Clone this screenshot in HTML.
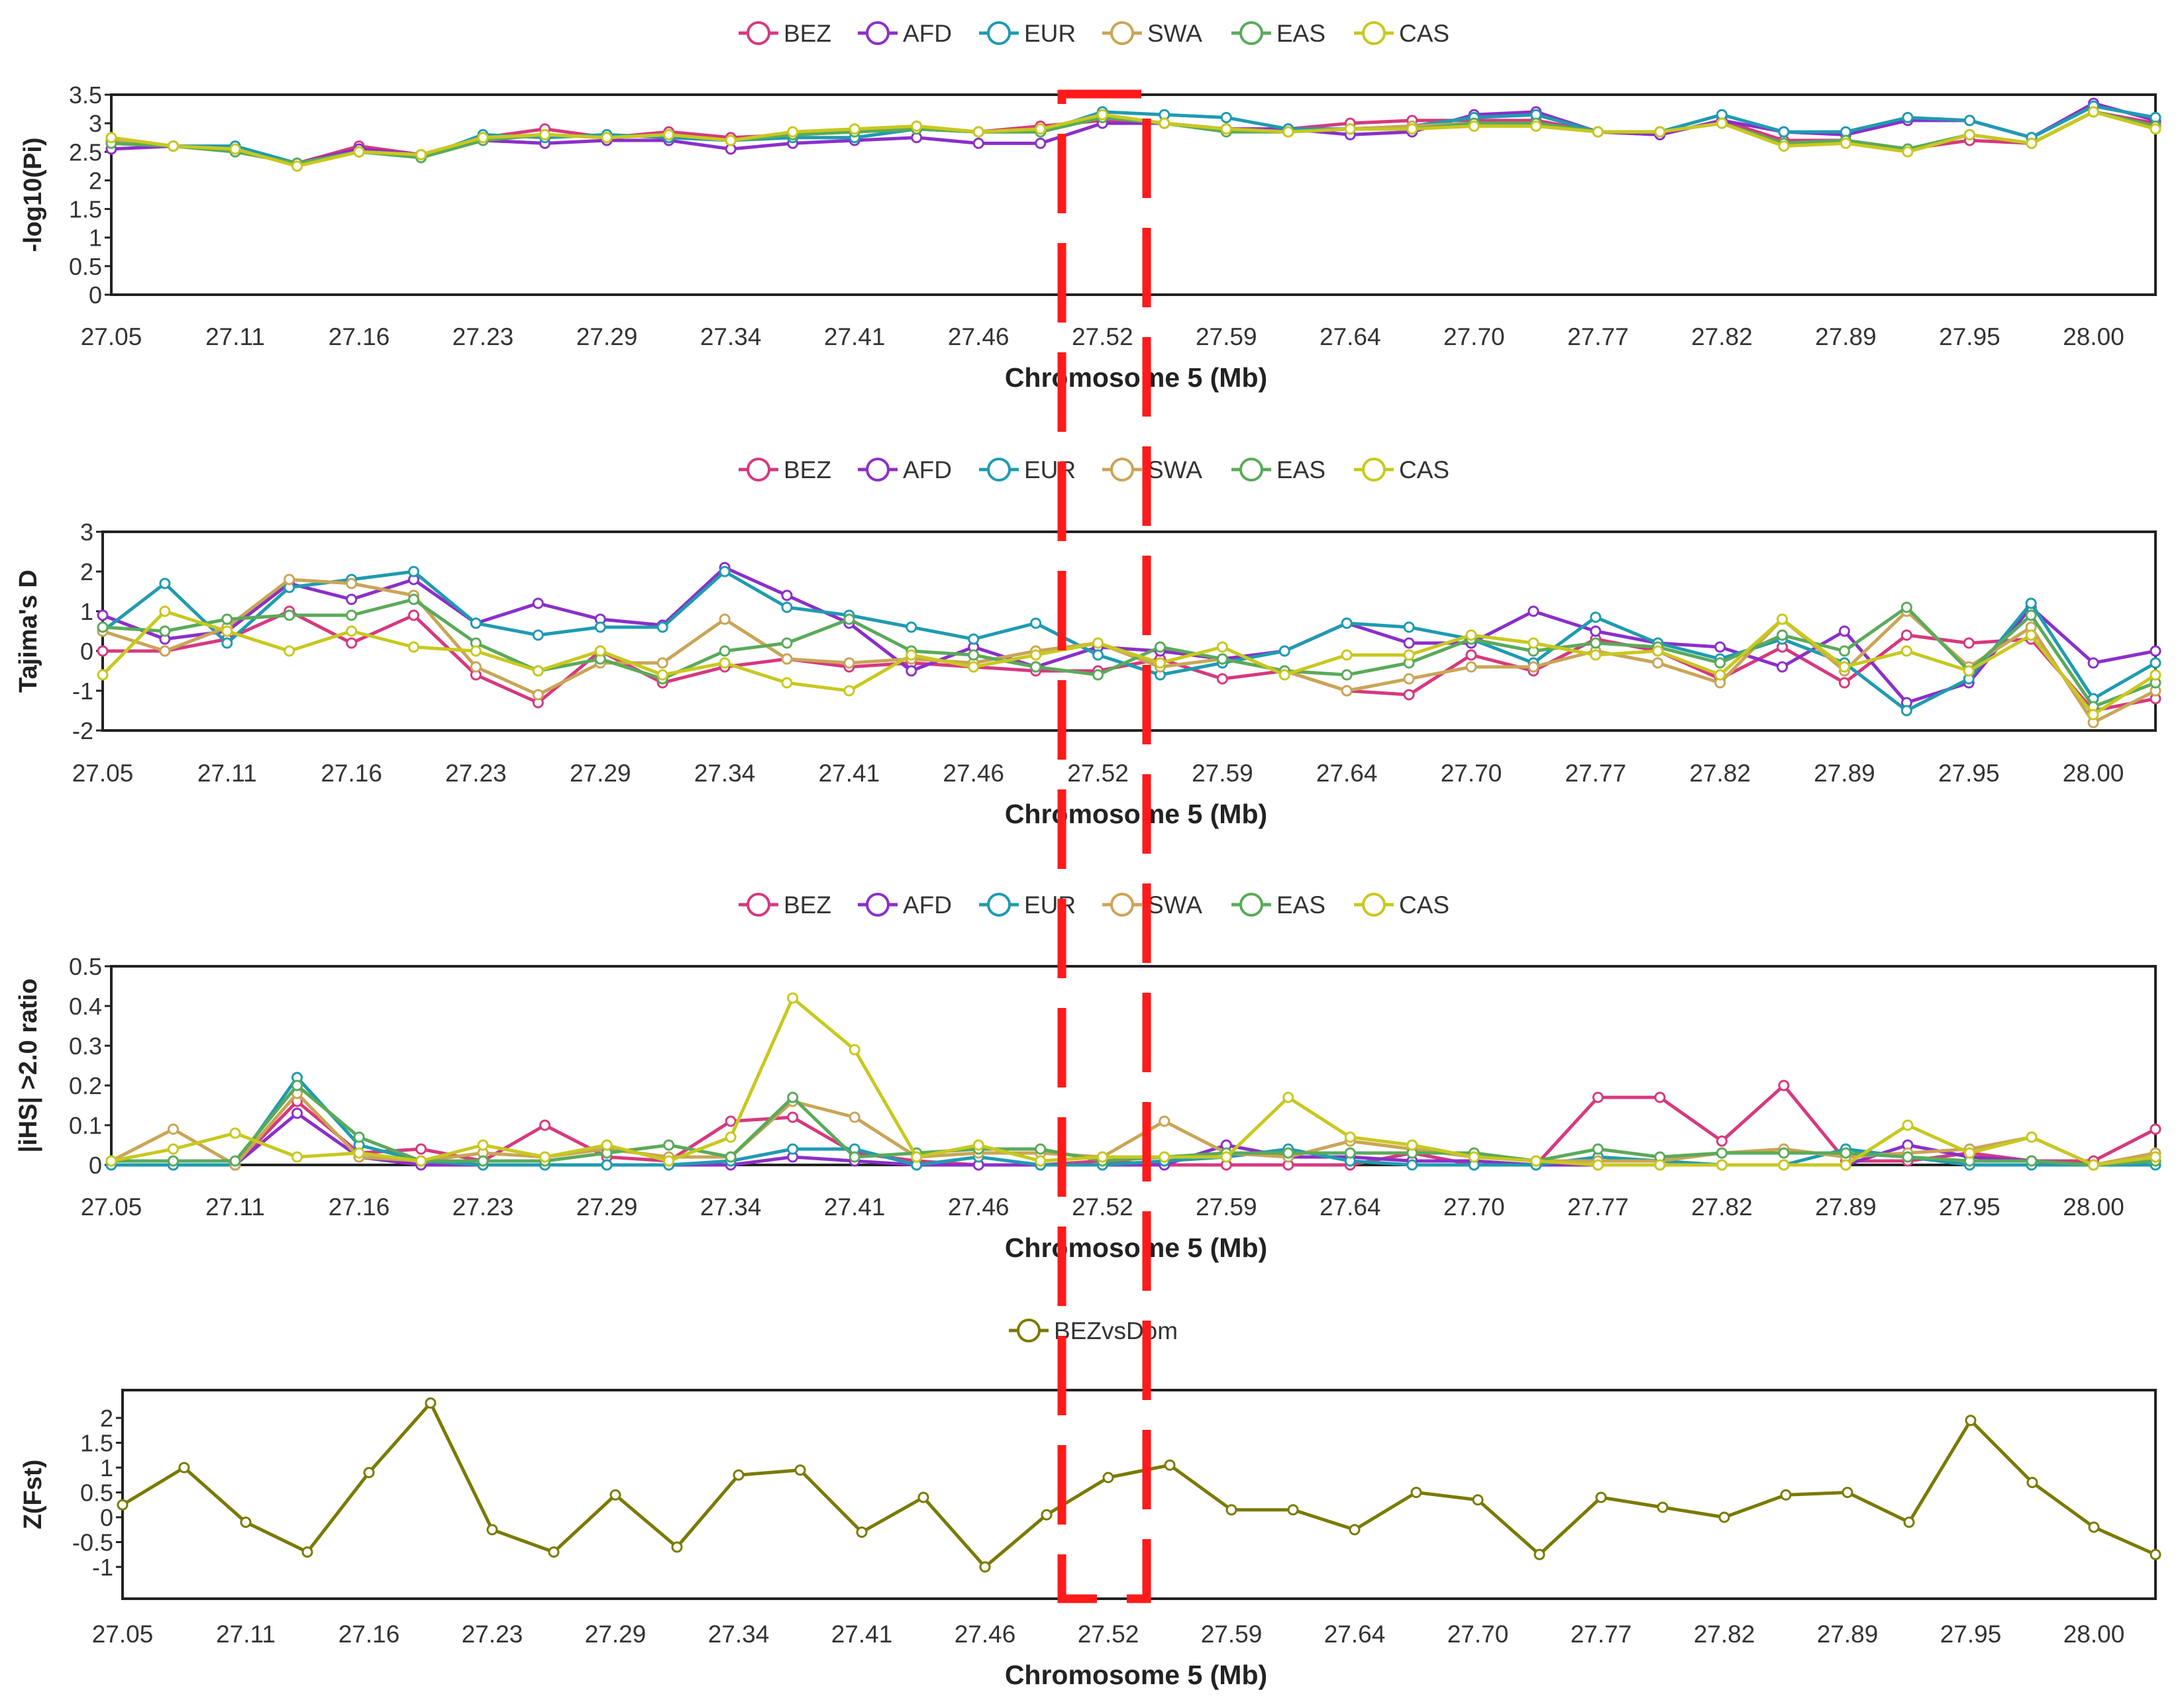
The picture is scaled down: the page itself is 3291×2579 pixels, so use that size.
<!DOCTYPE html>
<html><head><meta charset="utf-8"><style>
html,body{margin:0;padding:0;background:#fff;}
svg{display:block;font-family:"Liberation Sans",sans-serif;}
</style></head><body>
<svg id="c" width="3291" height="2579" viewBox="0 0 3291 2579"></svg>
<script>
const xTickLabels=["27.05","27.11","27.16","27.23","27.29","27.34","27.41","27.46","27.52","27.59","27.64","27.70","27.77","27.82","27.89","27.95","28.00"];
const seriesNames=["BEZ","AFD","EUR","SWA","EAS","CAS"];
const seriesColors=["#d6397f","#8b2fc9","#1f9bb0","#c9a556","#5aaa5a","#c8c81e"];
const piBEZ=[2.65,2.6,2.55,2.3,2.6,2.45,2.75,2.9,2.75,2.85,2.75,2.8,2.85,2.9,2.85,2.95,3.05,3.0,2.9,2.9,3.0,3.05,3.05,3.05,2.85,2.8,3.05,2.7,2.7,2.55,2.7,2.65,3.2,3.0];
const piAFD=[2.55,2.6,2.55,2.3,2.55,2.45,2.7,2.65,2.7,2.7,2.55,2.65,2.7,2.75,2.65,2.65,3.0,3.0,2.9,2.9,2.8,2.85,3.15,3.2,2.85,2.8,3.05,2.85,2.8,3.05,3.05,2.75,3.35,3.05];
const piEUR=[2.7,2.6,2.6,2.3,2.5,2.4,2.8,2.75,2.8,2.75,2.7,2.75,2.75,2.9,2.85,2.85,3.2,3.15,3.1,2.9,2.9,2.95,3.1,3.15,2.85,2.85,3.15,2.85,2.85,3.1,3.05,2.75,3.3,3.1];
const piSWA=[2.7,2.6,2.5,2.3,2.5,2.45,2.75,2.8,2.75,2.8,2.7,2.8,2.85,2.9,2.85,2.9,3.1,3.0,2.9,2.85,2.9,2.95,3.0,3.0,2.85,2.85,3.0,2.65,2.7,2.55,2.8,2.65,3.2,2.95];
const piEAS=[2.65,2.6,2.5,2.3,2.5,2.4,2.7,2.8,2.75,2.8,2.7,2.8,2.85,2.9,2.85,2.85,3.1,3.0,2.85,2.85,2.9,2.9,3.0,3.0,2.85,2.85,3.0,2.65,2.7,2.55,2.8,2.65,3.2,2.95];
const piCAS=[2.75,2.6,2.55,2.25,2.5,2.45,2.75,2.8,2.75,2.8,2.7,2.85,2.9,2.95,2.85,2.9,3.15,3.0,2.9,2.85,2.9,2.9,2.95,2.95,2.85,2.85,3.0,2.6,2.65,2.5,2.8,2.65,3.2,2.9];
const tdBEZ=[0.0,0.0,0.3,1.0,0.2,0.9,-0.6,-1.3,0.0,-0.8,-0.4,-0.2,-0.4,-0.3,-0.4,-0.5,-0.5,-0.2,-0.7,-0.5,-1.0,-1.1,-0.1,-0.5,0.3,0.0,-0.7,0.1,-0.8,0.4,0.2,0.3,-1.5,-1.2];
const tdAFD=[0.9,0.3,0.5,1.7,1.3,1.8,0.7,1.2,0.8,0.65,2.1,1.4,0.7,-0.5,0.1,-0.4,0.1,0.0,-0.2,0.0,0.7,0.2,0.2,1.0,0.5,0.2,0.1,-0.4,0.5,-1.3,-0.8,1.1,-0.3,0.0];
const tdEUR=[0.5,1.7,0.2,1.6,1.8,2.0,0.7,0.4,0.6,0.6,2.0,1.1,0.9,0.6,0.3,0.7,-0.1,-0.6,-0.3,0.0,0.7,0.6,0.3,-0.3,0.85,0.2,-0.2,0.3,-0.3,-1.5,-0.7,1.2,-1.2,-0.3];
const tdSWA=[0.5,0.0,0.6,1.8,1.7,1.4,-0.4,-1.1,-0.3,-0.3,0.8,-0.2,-0.3,-0.2,-0.3,0.0,0.2,-0.4,-0.2,-0.5,-1.0,-0.7,-0.4,-0.4,0.0,-0.3,-0.8,0.8,-0.5,1.0,-0.4,0.6,-1.8,-1.0];
const tdEAS=[0.6,0.5,0.8,0.9,0.9,1.3,0.2,-0.5,-0.2,-0.7,0.0,0.2,0.8,0.0,-0.1,-0.4,-0.6,0.1,-0.2,-0.5,-0.6,-0.3,0.3,0.0,0.2,0.1,-0.3,0.4,0.0,1.1,-0.5,0.9,-1.4,-0.8];
const tdCAS=[-0.6,1.0,0.5,0.0,0.5,0.1,0.0,-0.5,0.0,-0.6,-0.3,-0.8,-1.0,-0.1,-0.4,-0.1,0.2,-0.3,0.1,-0.6,-0.1,-0.1,0.4,0.2,-0.1,0.0,-0.6,0.8,-0.4,0.0,-0.5,0.4,-1.6,-0.6];
const ihsBEZ=[0.0,0.0,0.0,0.16,0.03,0.04,0.01,0.1,0.02,0.01,0.11,0.12,0.03,0.01,0.0,0.0,0.01,0.0,0.0,0.0,0.0,0.03,0.0,0.0,0.17,0.17,0.06,0.2,0.01,0.01,0.03,0.01,0.01,0.09];
const ihsAFD=[0.0,0.0,0.0,0.13,0.02,0.0,0.0,0.0,0.0,0.0,0.0,0.02,0.01,0.0,0.0,0.0,0.0,0.0,0.05,0.02,0.02,0.01,0.01,0.0,0.0,0.0,0.0,0.0,0.0,0.05,0.02,0.01,0.0,0.01];
const ihsEUR=[0.0,0.0,0.0,0.22,0.05,0.01,0.0,0.0,0.0,0.0,0.01,0.04,0.04,0.0,0.02,0.0,0.0,0.01,0.02,0.04,0.01,0.0,0.0,0.0,0.02,0.01,0.0,0.0,0.04,0.02,0.0,0.0,0.0,0.0];
const ihsSWA=[0.01,0.09,0.0,0.18,0.02,0.01,0.03,0.02,0.04,0.02,0.02,0.16,0.12,0.02,0.03,0.03,0.02,0.11,0.03,0.02,0.06,0.04,0.02,0.01,0.01,0.01,0.03,0.04,0.02,0.03,0.04,0.07,0.0,0.03];
const ihsEAS=[0.01,0.01,0.01,0.2,0.07,0.01,0.01,0.01,0.03,0.05,0.02,0.17,0.02,0.03,0.04,0.04,0.01,0.02,0.03,0.03,0.03,0.03,0.03,0.01,0.04,0.02,0.03,0.03,0.03,0.02,0.01,0.01,0.0,0.01];
const ihsCAS=[0.01,0.04,0.08,0.02,0.03,0.01,0.05,0.02,0.05,0.01,0.07,0.42,0.29,0.02,0.05,0.01,0.02,0.02,0.02,0.17,0.07,0.05,0.02,0.01,0.0,0.0,0.0,0.0,0.0,0.1,0.03,0.07,0.0,0.02];
const fstBEZvsDom=[0.25,1.0,-0.1,-0.7,0.9,2.3,-0.25,-0.7,0.45,-0.6,0.85,0.95,-0.3,0.4,-1.0,0.05,0.8,1.05,0.15,0.15,-0.25,0.5,0.35,-0.75,0.4,0.2,0.0,0.45,0.5,-0.1,1.95,0.7,-0.2,-0.75];
const piTicks=[0,0.5,1,1.5,2,2.5,3,3.5];
const tdTicks=[-2,-1,0,1,2,3];
const ihsTicks=[0,0.1,0.2,0.3,0.4,0.5];
const fstTicks=[-1,-0.5,0,0.5,1,1.5,2];

const NS="http://www.w3.org/2000/svg";
const svg=document.getElementById('c');
function el(tag,attrs,parent,text){const e=document.createElementNS(NS,tag);for(const k in attrs)e.setAttribute(k,attrs[k]);if(text!==undefined)e.textContent=text;(parent||svg).appendChild(e);return e;}

function panel(cfg){
  const g=el('g',{});
  
  
  const L=cfg.left,R=3254,T=cfg.top,B=cfg.bottom;
  const n=cfg.series[0].length;
  const xs=i=>L+(R-L)*i/(n-1);
  const ys=v=>B-(v-cfg.min)/(cfg.max-cfg.min)*(B-T);
  // legend
  const lg=el('g',{},g);
  
  
  cfg.legend.forEach((nm,k)=>{
    const cx=cfg.legendX[k];
    const it=el('g',{},lg);
    
    
    el('line',{x1:cx-30,x2:cx+30,y1:cfg.legendY,y2:cfg.legendY,stroke:cfg.colors[k],'stroke-width':5},it);
    el('circle',{cx:cx,cy:cfg.legendY,r:16,fill:'#fff',stroke:cfg.colors[k],'stroke-width':4},it);
    el('text',{x:cx+38,y:cfg.legendY+13,'font-size':37,fill:'#333'},it,nm);
  });
  // axes box
  const box=el('rect',{x:L,y:T,width:R-L,height:B-T,fill:'none',stroke:'#222','stroke-width':4},g);
  
  
  // y ticks
  cfg.yTicks.forEach(t=>{
    const y=ys(t);
    el('line',{x1:L-10,x2:L,y1:y,y2:y,stroke:'#222','stroke-width':3},g);
    const tx=el('text',{x:L-14,y:y+13,'font-size':36,'text-anchor':'end',fill:'#333'},g,String(t));
    
    
  });
  // x tick labels
  xTickLabels.forEach((lab,k)=>{
    const tx=el('text',{x:xs(k*2),y:cfg.tickY,'font-size':37,'text-anchor':'middle',fill:'#333'},g,lab);
    
    
  });
  const yt=el('text',{x:0,y:0,'font-size':38,'font-weight':'bold','text-anchor':'middle',fill:'#222',transform:`translate(${cfg.yTitleX},${(T+B)/2}) rotate(-90)`},g,cfg.yTitle);
  
  
  const xt=el('text',{x:1715,y:cfg.titleY,'font-size':41,'font-weight':'bold','text-anchor':'middle',fill:'#222'},g,'Chromosome 5 (Mb)');
  
  
  // series
  cfg.series.forEach((arr,k)=>{
    const sg=el('g',{},g);
    
    
    el('polyline',{points:arr.map((v,i)=>xs(i)+','+ys(v)).join(' '),fill:'none',stroke:cfg.colors[k],'stroke-width':5,'stroke-linejoin':'round'},sg);
    arr.forEach((v,i)=>{
      const c=el('circle',{cx:xs(i),cy:ys(v),r:7,fill:'#fff',stroke:cfg.colors[k],'stroke-width':3},sg);
      
      
    });
  });
}
const lx=[1145,1325,1508,1694,1889,2074];
panel({name:'pi',left:168,top:143,bottom:445,min:0,max:3.5,yTicks:piTicks,series:[piBEZ,piAFD,piEUR,piSWA,piEAS,piCAS],colors:seriesColors,legend:seriesNames,legendX:lx,legendY:50,tickY:521,titleY:584,yTitle:'-log10(Pi)',yTitleX:62});
panel({name:'tajima',left:155,top:803,bottom:1103,min:-2,max:3,yTicks:tdTicks,series:[tdBEZ,tdAFD,tdEUR,tdSWA,tdEAS,tdCAS],colors:seriesColors,legend:seriesNames,legendX:lx,legendY:709,tickY:1180,titleY:1243,yTitle:"Tajima's D",yTitleX:55});
panel({name:'ihs',left:168,top:1459,bottom:1759,min:0,max:0.5,yTicks:ihsTicks,series:[ihsBEZ,ihsAFD,ihsEUR,ihsSWA,ihsEAS,ihsCAS],colors:seriesColors,legend:seriesNames,legendX:lx,legendY:1366,tickY:1835,titleY:1898,yTitle:'|iHS| >2.0 ratio',yTitleX:55});
panel({name:'fst',left:185,top:2099,bottom:2414,min:-1.64,max:2.56,yTicks:fstTicks,series:[fstBEZvsDom],colors:['#7a7a00'],legend:['BEZvsDom'],legendX:[1553],legendY:2009,tickY:2480,titleY:2543,yTitle:'Z(Fst)',yTitleX:62});
// red dashed highlight
const hl=el('rect',{x:1603,y:142,width:128,height:2272,fill:'none',stroke:'#ff1a1a','stroke-width':13,'stroke-dasharray':'120 45'});


</script>
</body></html>
